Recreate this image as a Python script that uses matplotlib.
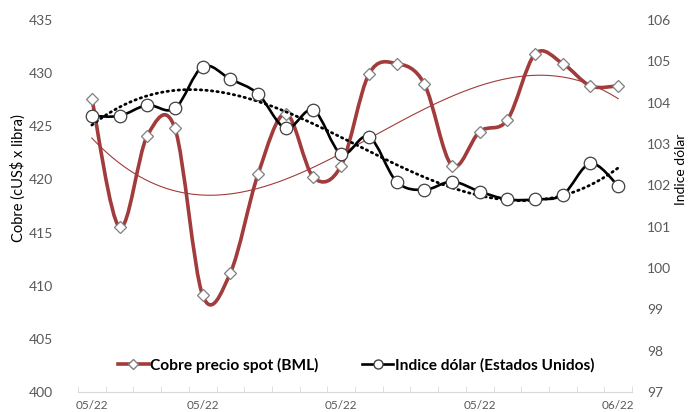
import matplotlib
matplotlib.use('Agg')
import matplotlib.pyplot as plt
import numpy as np
from matplotlib.path import Path
from matplotlib.patches import PathPatch
from matplotlib.lines import Line2D

plt.rcParams['font.family'] = ['Lato', 'DejaVu Sans']

# daily observations (20 trading days)
days = np.arange(20)
tick_pos = [0, 4, 9, 14, 19]
tick_labels = ['05/22', '05/22', '05/22', '05/22', '06/22']

cobre = [427.6, 415.5, 424.1, 424.8, 409.1, 411.2, 420.5, 426.2, 420.2, 421.3,
         429.9, 430.9, 429.0, 421.3, 424.5, 425.6, 431.8, 430.9, 428.8, 428.8]
dolar = [103.68, 103.68, 103.94, 103.86, 104.87, 104.57, 104.21, 103.38, 103.82, 102.76,
         103.18, 102.09, 101.89, 102.09, 101.85, 101.66, 101.66, 101.77, 102.53, 101.99]

RED = '#a23b3b'
GREY = '#595959'


def smooth_path(x, y):
    """Bezier path through points, like Excel's smoothed line"""
    pts = np.column_stack([x, y]).astype(float)
    n = len(pts)
    verts = [pts[0]]
    codes = [Path.MOVETO]
    for i in range(n - 1):
        p0 = pts[i - 1] if i > 0 else pts[i]
        p1 = pts[i]
        p2 = pts[i + 1]
        p3 = pts[i + 2] if i + 2 < n else pts[i + 1]
        c1 = p1 + (p2 - p0) / 6.0
        c2 = p2 - (p3 - p1) / 6.0
        verts += [c1, c2, p2]
        codes += [Path.CURVE4] * 3
    return Path(verts, codes)


fig = plt.figure(figsize=(6.89, 4.12), dpi=100)
ax = fig.add_axes([78 / 689, 20 / 412, (632 - 78) / 689, (392 - 20) / 412])
ax2 = ax.twinx()

# copper on left axis
ax.add_patch(PathPatch(smooth_path(days, cobre), facecolor='none', edgecolor=RED,
                       lw=2.6, capstyle='round', joinstyle='round', zorder=2))
c_fit = np.polyfit(days, cobre, 3)
xs = np.linspace(0, 19, 200)
ax.plot(xs, np.polyval(c_fit, xs), color=RED, lw=0.8, zorder=3)
ax.plot(days, cobre, ls='none', marker='D', ms=6.5, mfc='white', mec='#7f7f7f',
        mew=0.9, zorder=4)

# dollar index on right axis
ax2.add_patch(PathPatch(smooth_path(days, dolar), facecolor='none', edgecolor='black',
                        lw=1.9, capstyle='round', joinstyle='round', zorder=2))
d_fit = np.polyfit(days, dolar, 3)
ax2.plot(xs, np.polyval(d_fit, xs), color='black', lw=2.0, ls=(0, (0.5, 1.5)),
         dash_capstyle='round', zorder=3)
ax2.plot(days, dolar, ls='none', marker='o', ms=9, mfc='white', mec='#404040',
         mew=0.9, zorder=4)

ax.set_xlim(-0.5, 19.5)
ax.set_ylim(400, 435)
ax2.set_ylim(97, 106)
ax.set_yticks(range(400, 436, 5))
ax2.set_yticks(range(97, 107))

ax.set_xticks(tick_pos)
ax.set_xticklabels(tick_labels)
ax.set_xticks(np.arange(-0.5, 20, 1), minor=True)
ax.tick_params(axis='x', which='major', length=0, pad=6, labelsize=8.5, colors=GREY)
ax.tick_params(axis='x', which='minor', length=4, direction='in', color='#d9d9d9')
ax.tick_params(axis='y', length=0, pad=18, labelsize=10, colors=GREY)
ax2.tick_params(axis='y', length=0, pad=11, labelsize=10, colors=GREY)

for a in (ax, ax2):
    for side in ('top', 'left', 'right', 'bottom'):
        a.spines[side].set_visible(False)
ax.spines['bottom'].set_visible(True)
ax.spines['bottom'].set_color('#d9d9d9')

fig.text(18 / 689, 1 - 178 / 412, 'Cobre (cUS$ x libra)', rotation=90,
         ha='center', va='center', fontsize=10.5, color='black')
fig.text(681 / 689, 1 - 169 / 412, 'Indice dólar', rotation=90,
         ha='center', va='center', fontsize=10, color='black')

handles = [
    Line2D([], [], color=RED, lw=2.6, marker='D', ms=5, mfc='white', mec='#7f7f7f'),
    Line2D([], [], color='black', lw=1.9, marker='o', ms=6.5, mfc='white', mec='#404040'),
]
leg = ax2.legend(handles, ['Cobre precio spot (BML)', 'Indice dólar (Estados Unidos)'],
                 loc='center', bbox_to_anchor=(356 / 689, 1 - 365 / 412),
                 bbox_transform=fig.transFigure, ncol=2, frameon=False,
                 prop={'weight': 'bold', 'size': 11.2}, handlelength=2.0,
                 handletextpad=0.1, columnspacing=2.8)

fig.savefig('out.png', dpi=100)
plt.close()
